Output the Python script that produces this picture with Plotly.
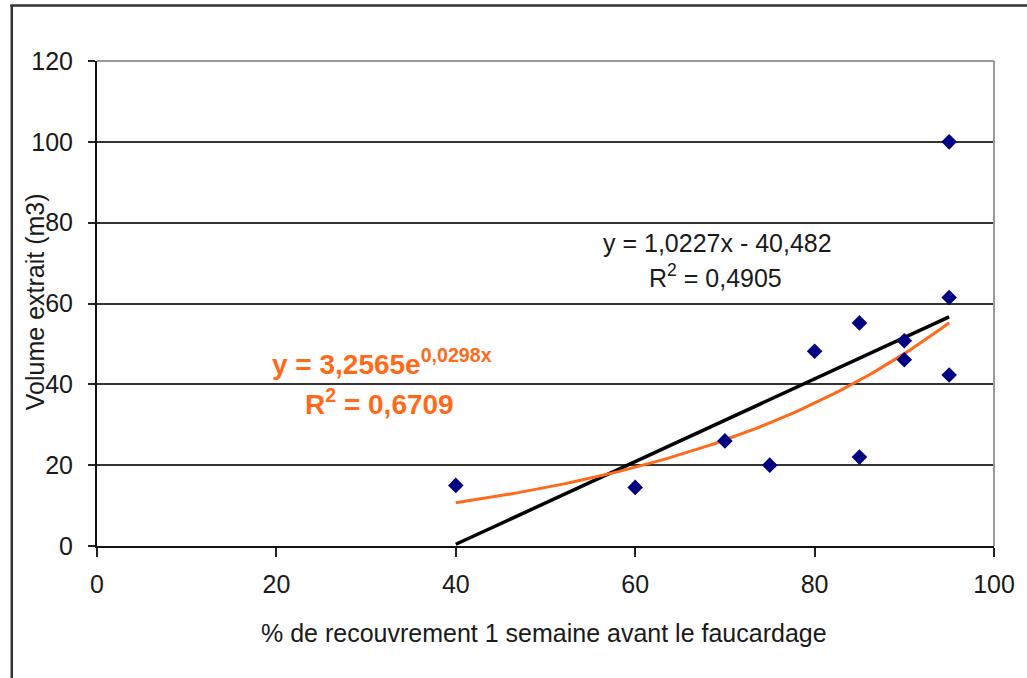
import numpy as np
import plotly.graph_objects as go

# Data
cover_pct = [40, 60, 70, 75, 80, 85, 85, 90, 90, 95, 95, 95]
volume_m3 = [15, 14.5, 26, 20, 48.2, 55.2, 22, 50.8, 46.1, 100, 61.5, 42.3]

# Trendline coefficients as displayed on the chart
lin_slope, lin_intercept = 1.0227, -40.482
exp_a, exp_b = 3.2565, 0.0298

x_ticks = [0, 20, 40, 60, 80, 100]
y_ticks = [0, 20, 40, 60, 80, 100, 120]

W, H = 1027, 678
L, R, T, B = 97, 997, 61, 546

def px(xp):
    return (xp - L) / (R - L)

def py(yp):
    return (B - yp) / (B - T)

xfit = np.linspace(min(cover_pct), max(cover_pct), 100)
y_lin = lin_slope * xfit + lin_intercept
y_exp = exp_a * np.exp(exp_b * xfit)

fig = go.Figure()
fig.add_trace(go.Scatter(x=xfit, y=y_lin, mode="lines",
                         line=dict(color="black", width=3.5), showlegend=False, hoverinfo="skip"))
fig.add_trace(go.Scatter(x=xfit, y=y_exp, mode="lines",
                         line=dict(color="#FF6A1A", width=3), showlegend=False, hoverinfo="skip"))
fig.add_trace(go.Scatter(x=cover_pct, y=volume_m3, mode="markers",
                         marker=dict(symbol="diamond", size=12, color="#000080"),
                         showlegend=False))

font_family = "Liberation Sans, Arial, sans-serif"
FS = 25
TXT = "#1a1a1a"
ORANGE = "#FF6A1A"

fig.update_layout(
    width=W, height=H,
    margin=dict(l=L, r=W - R, t=T, b=H - B),
    paper_bgcolor="white", plot_bgcolor="white",
    font=dict(family=font_family, size=FS, color=TXT),
    xaxis=dict(range=[0, 100], tickvals=x_ticks, showgrid=False, zeroline=False,
               showline=True, linecolor="#111", linewidth=2,
               ticks="outside", ticklen=9, tickwidth=2, tickcolor="#222",
               tickfont=dict(size=FS), ticklabelstandoff=6),
    yaxis=dict(range=[0, 120], tickvals=y_ticks, showgrid=True, gridcolor="#333",
               gridwidth=2, zeroline=False,
               showline=True, linecolor="#111", linewidth=2,
               ticks="outside", ticklen=7, tickwidth=2, tickcolor="#222",
               tickfont=dict(size=FS), ticklabelstandoff=10),
)

shapes = [
    # plot area border (top/right, gray)
    dict(type="line", xref="paper", yref="paper", x0=0, x1=1, y0=1, y1=1,
         line=dict(color="#999", width=2)),
    dict(type="line", xref="paper", yref="paper", x0=1, x1=1, y0=0, y1=1,
         line=dict(color="#999", width=2)),
    # outer chart frame
    dict(type="line", xref="paper", yref="paper", x0=px(11.5), x1=px(11.5), y0=py(5), y1=py(700),
         line=dict(color="#333", width=2.5)),
    dict(type="line", xref="paper", yref="paper", x0=px(10), x1=px(1040), y0=py(5.5), y1=py(5.5),
         line=dict(color="#333", width=2.5)),
]
fig.update_layout(shapes=shapes)

def note(x, y, text, size, color, xanchor="center", yanchor="middle", angle=0):
    fig.add_annotation(xref="paper", yref="paper", x=px(x), y=py(y), text=text,
                       showarrow=False, xanchor=xanchor, yanchor=yanchor, textangle=angle,
                       font=dict(size=size, color=color, family=font_family))

# axis titles
note(545, 633, "% de recouvrement 1 semaine avant le faucardage", FS, TXT)
note(35, 302, "Volume extrait (m3)", FS, TXT, angle=-90)

# trendline labels
note(719.5, 259, "y = 1,0227x - 40,482", FS, TXT, yanchor="bottom")
note(718, 294, "R<sup>2</sup> = 0,4905", FS, TXT, yanchor="bottom")
note(271, 382, "<b>y = 3,2565e<sup>0,0298x</sup></b>", 28, ORANGE, xanchor="left", yanchor="bottom")
note(380, 422, "<b>R<sup>2</sup> = 0,6709</b>", 28, ORANGE, yanchor="bottom")

fig.write_html("out.html", config={"displayModeBar": False},
               post_script="document.body.style.margin='0';")
